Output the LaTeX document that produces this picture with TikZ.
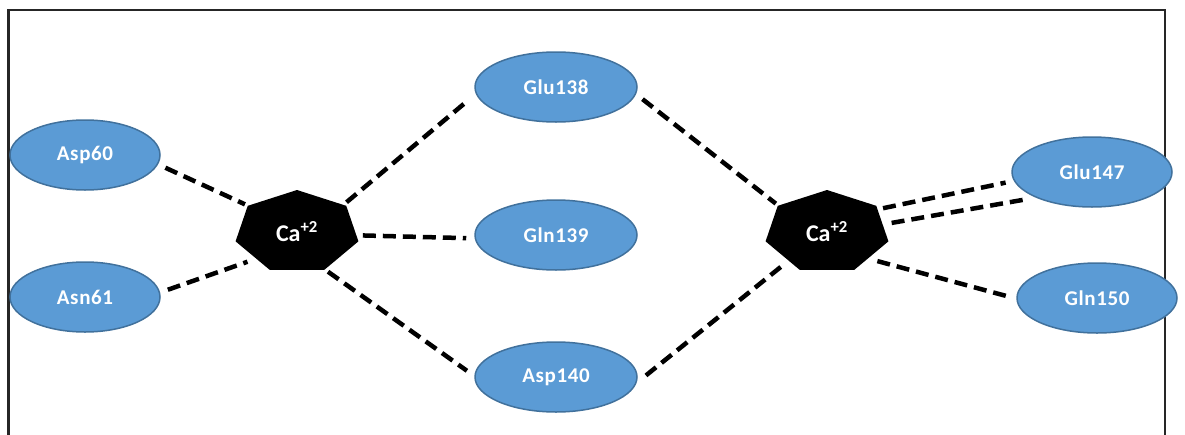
\documentclass[tikz,border=0pt]{standalone}
\usepackage{fontspec}
\setmainfont{Carlito}
\usetikzlibrary{shapes.geometric,calc}
\definecolor{resfill}{HTML}{5B9BD5}
\definecolor{resdraw}{HTML}{41719C}
\begin{document}
\begin{tikzpicture}[x=1pt,y=-1pt,
  res/.style={ellipse, fill=resfill, draw=resdraw, line width=1.5pt, inner sep=0pt,
    minimum width=150pt, minimum height=70pt, outer sep=9pt,
    text=white, font=\fontsize{21}{23}\selectfont\bfseries\addfontfeatures{LetterSpace=3}},
  ion/.style={ellipse, inner sep=0pt, minimum width=126pt, minimum height=84pt, outer sep=3pt,
    text=white, font=\fontsize{24}{26}\selectfont\bfseries},
  bond/.style={line width=4.5pt, dash pattern=on 13pt off 7pt, black}]
\useasboundingbox (0,0) rectangle (1185,434);
\draw[line width=2.5pt, black!85] (8.5,440) -- (8.5,10) -- (1165,10) -- (1165,440);
% heptagons
\foreach \cx in {297,827}{
  \begin{scope}[shift={(\cx,232)}]
  \fill[black] (-90:63 and 42) -- (-38.57:63 and 42) -- (12.86:63 and 42) -- (64.29:63 and 42)
    -- (115.71:63 and 42) -- (167.14:63 and 42) -- (218.57:63 and 42) -- cycle;
  \end{scope}}
\node[ion] (ca1) at (297,232) {Ca\textsuperscript{+2}};
\node[ion] (ca2) at (827,232) {Ca\textsuperscript{+2}};
\node[res] (asp60) at (85,155) {Asp60};
\node[res] (asn61) at (85,297) {Asn61};
\node[res, minimum width=162pt] (glu138) at (556,87) {Glu138};
\node[res, minimum width=162pt] (gln139) at (556,235) {Gln139};
\node[res, minimum width=162pt] (asp140) at (556,377) {Asp140};
\node[res, minimum width=160pt] (glu147) at (1092,172) {Glu147};
\node[res, minimum width=160pt] (gln150) at (1097,298) {Gln150};
% bonds
\draw[bond] (asp60.-9) -- (ca1.152);
\draw[bond] (asn61.5) -- (ca1.211);
\draw[bond, shorten >=2pt] (ca1.31) -- (glu138.188);
\draw[bond] (ca1.-3) -- (gln139.182);
\draw[bond] (ca1.-52) -- (asp140.176);
\draw[bond] (glu138.-8) -- (ca2.151);
\draw[bond] (asp140.1) -- (ca2.217);
\draw[bond] (ca2.23) -- (glu147.187);
\draw[bond] (ca2.8) -- (glu147.202);
\draw[bond] (ca2.-30) -- (gln150.179);
\end{tikzpicture}
\end{document}
